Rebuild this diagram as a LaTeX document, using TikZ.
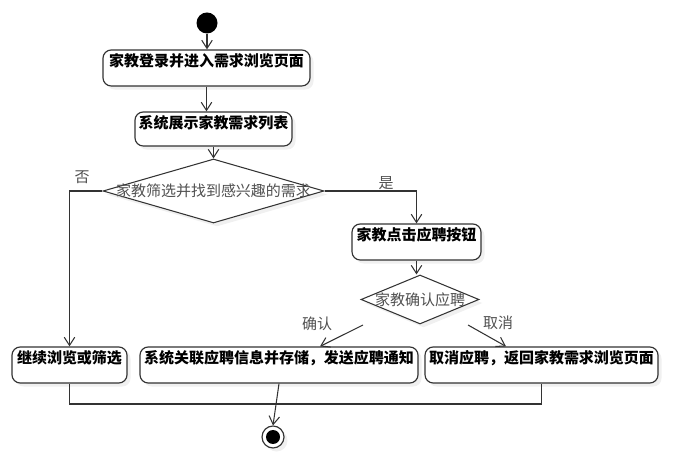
\documentclass[tikz,border=0pt]{standalone}
\usepackage{fontspec}
\usepackage{xcolor}
\usepackage{tikz}
\usetikzlibrary{arrows.meta,positioning,calc,shapes.geometric,shadows}
\newfontfamily\cjk{Noto Sans CJK SC}
\definecolor{lineDark}{HTML}{333333}
\definecolor{textGray}{HTML}{505050}

\begin{document}
\begin{tikzpicture}[>={Straight Barb[length=7pt,width=9pt]},
    font=\cjk\fontsize{12.8}{15}\selectfont,
    act/.style={draw=lineDark, line width=1pt, rounded corners=7pt, fill=white,
        inner xsep=0pt, inner ysep=0pt, text height=0.5cm, text depth=0.58cm,
        font=\cjk\bfseries\fontsize{12.8}{15}\selectfont,
        drop shadow={shadow xshift=3pt, shadow yshift=-3pt, opacity=0.12}},
    decision/.style={diamond, draw=lineDark, line width=0.9pt, fill=white, inner sep=0pt,
        drop shadow={shadow xshift=3pt, shadow yshift=-3pt, opacity=0.12}},
    flow/.style={->, draw=lineDark, line width=0.9pt},
    branch/.style={text=textGray}]
    \useasboundingbox (0,0) rectangle (20.19,13.98);

    \node[circle, fill=black, minimum size=0.63cm, inner sep=0pt] (start) at (6.21,13.29) {};
    \node[act, minimum width=6.21cm] (login) at (6.195,11.94) {家教登录并进入需求浏览页面};
    \node[act, minimum width=4.71cm, text depth=0.52cm] (list) at (6.405,10.11) {系统展示家教需求列表};
    \node[decision, minimum width=6.63cm, minimum height=1.92cm,
        label={[text=textGray]center:家教筛选并找到感兴趣的需求}] (found) at (6.405,8.25) {};
    \node[act, minimum width=3.87cm] (apply) at (12.495,6.72) {家教点击应聘按钮};
    \node[decision, minimum width=3.54cm, minimum height=1.47cm,
        label={[text=textGray]center:家教确认应聘}] (confirm) at (12.6,4.995) {};
    \node[act, minimum width=3.45cm] (browse) at (2.085,3.03) {继续浏览或筛选};
    \node[act, minimum width=8.34cm] (store) at (8.37,3.03) {系统关联应聘信息并存储，发送应聘通知};
    \node[act, minimum width=6.99cm] (cancel) at (16.245,3.03) {取消应聘，返回家教需求浏览页面};
    \node[circle, draw=lineDark, line width=1pt, fill=white, minimum size=0.66cm, inner sep=0pt,
        drop shadow={shadow xshift=3pt, shadow yshift=-3pt, opacity=0.12}] (end) at (8.19,0.87) {};
    \node[circle, fill=black, minimum size=0.42cm, inner sep=0pt] (endDot) at (end) {};

    % main flow
    \draw[flow] (start) -- (start |- login.north);
    \draw[flow] (login.south) -- (login.south |- list.north);
    \draw[flow] (list.south) -- (found.north);
    \draw[flow] (found.west) -| (browse.north);
    \node[branch] (lblNo) at (2.46,8.67) {否};
    \draw[flow] (found.east) -| (apply.north);
    \node[branch] (lblYes) at (11.58,8.49) {是};
    \draw[flow] (apply.south) -- (apply.south |- confirm.north);

    % confirm / cancel
    \coordinate (okFrom) at (10.89,4.23);
    \coordinate (backFrom) at (14.04,4.23);
    \draw[flow] (okFrom) -- ([xshift=1.23cm]store.north);
    \node[branch] (lblOk) at (9.51,4.26) {确认};
    \draw[flow] (backFrom) -- ([xshift=-1.065cm]cancel.north);
    \node[branch] (lblBack) at (14.94,4.29) {取消};

    % merge to end
    \draw[draw=lineDark, line width=0.9pt] (browse.south) -- (browse.south |- 0,1.86) -| (cancel.south);
    \draw[flow] (store.south) -- (end.north);
\end{tikzpicture}
\end{document}
